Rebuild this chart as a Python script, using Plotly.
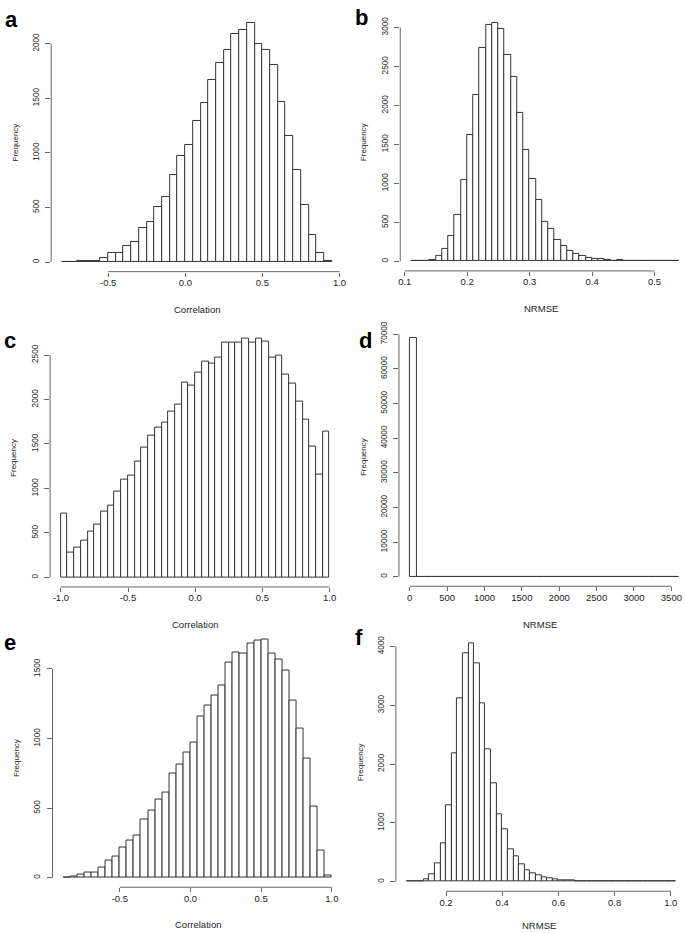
import plotly.graph_objects as go

W, H = 685, 933

# ---------------- data (histogram counts) ----------------
a_start, a_width = -0.8, 0.05
a_counts = [2, 3, 8, 10, 12, 40, 82, 88, 146, 185, 310, 364, 507, 601, 801, 974,
            1071, 1290, 1454, 1672, 1827, 1942, 2085, 2127, 2194, 1997, 1945, 1809,
            1463, 1156, 841, 525, 252, 88, 12]

b_start, b_width = 0.11, 0.01
b_counts = [1, 3, 8, 22, 68, 165, 325, 600, 1048, 1621, 2139, 2733, 3030, 3065,
            2988, 2648, 2364, 1905, 1426, 1057, 789, 505, 411, 280, 199, 131, 97,
            68, 38, 30, 30, 17, 12, 13, 10, 5, 8, 3, 2, 2, 1, 1, 1]

c_start, c_width = -1.0, 0.05
c_counts = [715, 275, 330, 415, 515, 590, 745, 810, 960, 1095, 1140, 1300, 1455,
            1595, 1680, 1745, 1860, 1945, 2190, 2160, 2300, 2425, 2400, 2470, 2635,
            2635, 2645, 2680, 2635, 2690, 2655, 2475, 2490, 2285, 2175, 1980, 1775,
            1470, 1155, 1645]

d_start, d_width = 0, 100
d_counts = [69050, 40, 12, 6, 4, 3, 2, 2, 1, 1, 1, 1, 1, 1, 1, 1, 1, 1, 1, 1, 1,
            1, 1, 1, 1, 1, 1, 1, 1, 1, 1, 1, 1, 1, 1, 1]

e_start, e_width = -0.9, 0.05
e_counts = [2, 7, 20, 35, 40, 70, 125, 150, 215, 265, 300, 420, 480, 560, 610, 750,
            815, 900, 975, 1160, 1240, 1310, 1380, 1550, 1615, 1610, 1685, 1705,
            1715, 1610, 1565, 1490, 1275, 1075, 855, 515, 195, 15]

f_start, f_width = 0.06, 0.02
f_counts = [1, 3, 12, 40, 120, 305, 658, 1293, 2182, 3111, 3882, 4061, 3713, 3026,
            2250, 1671, 1153, 883, 557, 427, 287, 196, 135, 101, 73, 51, 34, 28, 22,
            18, 14, 11, 9, 7, 6, 8, 4, 3, 3, 2, 2, 1, 1, 1, 1, 1, 1, 1]

# tick values / labels
corr_x_ticks = [-0.5, 0.0, 0.5, 1.0]
corr_x_labels = ["-0.5", "0.0", "0.5", "1.0"]
c_x_ticks = [-1.0, -0.5, 0.0, 0.5, 1.0]
c_x_labels = ["-1.0", "-0.5", "0.0", "0.5", "1.0"]
b_x_ticks = [0.1, 0.2, 0.3, 0.4, 0.5]
b_x_labels = ["0.1", "0.2", "0.3", "0.4", "0.5"]
d_x_ticks = [0, 500, 1000, 1500, 2000, 2500, 3000, 3500]
f_x_ticks = [0.2, 0.4, 0.6, 0.8, 1.0]
f_x_labels = ["0.2", "0.4", "0.6", "0.8", "1.0"]

a_y_ticks = [0, 500, 1000, 1500, 2000]
b_y_ticks = [0, 500, 1000, 1500, 2000, 2500, 3000]
c_y_ticks = [0, 500, 1000, 1500, 2000, 2500]
d_y_ticks = [0, 10000, 20000, 30000, 40000, 50000, 60000, 70000]
e_y_ticks = [0, 500, 1000, 1500]
f_y_ticks = [0, 1000, 2000, 3000, 4000]

# ---------------- layout calibration (pixel placement of each panel) ----------------
panels = [
    dict(letter="a", start=a_start, width=a_width, counts=a_counts, xlab="Correlation",
         xt=corr_x_ticks, xtl=corr_x_labels, yt=a_y_ticks, xlab_shift=-38,
         xcal=(-0.5, 107.0, 1.0, 340.0), ycal=(0, 257.0, 2000, 37.0), lpos=(10, 13)),
    dict(letter="b", start=b_start, width=b_width, counts=b_counts, xlab="NRMSE",
         xt=b_x_ticks, xtl=b_x_labels, yt=b_y_ticks, xlab_shift=-38,
         xcal=(0.1, 405.7, 0.5, 657.3), ycal=(0, 256.3, 3000, 20.7), lpos=(362, 11)),
    dict(letter="c", start=c_start, width=c_width, counts=c_counts, xlab="Correlation",
         xt=c_x_ticks, xtl=c_x_labels, yt=c_y_ticks, xlab_shift=-38,
         xcal=(-1.0, 59.3, 1.0, 330.0), ycal=(0, 574.7, 2500, 350.7), lpos=(8, 336)),
    dict(letter="d", start=d_start, width=d_width, counts=d_counts, xlab="NRMSE",
         xt=d_x_ticks, xtl=[str(v) for v in d_x_ticks], yt=d_y_ticks, xlab_shift=-38,
         xcal=(0, 410.7, 3500, 674.3), ycal=(0, 574.0, 70000, 329.7), lpos=(366, 336)),
    dict(letter="e", start=e_start, width=e_width, counts=e_counts, xlab="Correlation",
         xt=corr_x_ticks, xtl=corr_x_labels, yt=e_y_ticks, xlab_shift=-37,
         xcal=(-0.5, 118.7, 1.0, 332.3), ycal=(0, 877.3, 1500, 667.0), lpos=(8, 640)),
    dict(letter="f", start=f_start, width=f_width, counts=f_counts, xlab="NRMSE",
         xt=f_x_ticks, xtl=f_x_labels, yt=f_y_ticks, xlab_shift=-34,
         xcal=(0.2, 447.3, 1.0, 673.7), ycal=(0, 881.3, 4000, 644.3), lpos=(360, 635)),
]

FONT = "Liberation Sans, Arial, Helvetica, sans-serif"
BAR_LINE = "#333333"
AXIS_COL = "#666666"
TEXT_COL = "#222222"

fig = go.Figure()
shapes = []
annotations = []
layout = dict(width=W, height=H, margin=dict(l=0, r=0, t=0, b=0),
              paper_bgcolor="white", plot_bgcolor="white", showlegend=False,
              bargap=0, font=dict(family=FONT, color=TEXT_COL))

for i, p in enumerate(panels):
    n = i + 1
    xa = "x" if n == 1 else f"x{n}"
    ya = "y" if n == 1 else f"y{n}"
    n_bins = len(p["counts"])
    centers = [p["start"] + p["width"] * (k + 0.5) for k in range(n_bins)]
    fig.add_trace(go.Bar(
        x=centers, y=p["counts"], width=[p["width"]] * n_bins,
        marker=dict(color="white", line=dict(color=BAR_LINE, width=1)),
        xaxis=xa, yaxis=ya, hoverinfo="skip"))

    # R-style 4% padding of the data range
    x_min = p["start"]
    x_max = p["start"] + p["width"] * n_bins
    span = x_max - x_min
    x_lo, x_hi = x_min - 0.04 * span, x_max + 0.04 * span
    ymax = max(p["counts"])
    y_lo, y_hi = -0.04 * ymax, 1.04 * ymax

    v0, p0, v1, p1 = p["xcal"]
    kx = (p1 - p0) / (v1 - v0)
    px_lo = p0 + (x_lo - v0) * kx
    px_hi = p0 + (x_hi - v0) * kx
    if px_hi > W:
        px_hi = W
        x_hi = v0 + (W - p0) / kx
    w0, q0, w1, q1 = p["ycal"]
    ky = (q1 - q0) / (w1 - w0)
    py_bot = q0 + (y_lo - w0) * ky
    py_top = q0 + (y_hi - w0) * ky

    axkey_x = "xaxis" if n == 1 else f"xaxis{n}"
    axkey_y = "yaxis" if n == 1 else f"yaxis{n}"
    layout[axkey_x] = dict(
        domain=[px_lo / W, px_hi / W], range=[x_lo, x_hi], anchor=ya,
        showgrid=False, zeroline=False, showline=False,
        tickmode="array", tickvals=p["xt"], ticktext=p["xtl"],
        ticks="outside", ticklen=4, tickwidth=1, tickcolor=AXIS_COL,
        tickfont=dict(size=9.5, family=FONT, color=TEXT_COL), ticklabelstandoff=-2,
        fixedrange=True)
    layout[axkey_y] = dict(
        domain=[1 - py_bot / H, 1 - py_top / H], range=[y_lo, y_hi], anchor=xa,
        showgrid=False, zeroline=False, showline=False,
        tickmode="array", tickvals=p["yt"], ticktext=[str(v) for v in p["yt"]],
        ticks="outside", ticklen=5, tickwidth=1, tickcolor=AXIS_COL, tickangle=-90,
        tickfont=dict(size=8.2, family=FONT, color=TEXT_COL), ticklabelstandoff=3,
        fixedrange=True)

    # axis lines spanning only the tick range (R style)
    shapes.append(dict(type="line", xref=xa, yref=f"{ya} domain",
                       x0=p["xt"][0], x1=p["xt"][-1], y0=0, y1=0,
                       line=dict(color=AXIS_COL, width=1)))
    shapes.append(dict(type="line", xref=f"{xa} domain", yref=ya,
                       x0=0, x1=0, y0=p["yt"][0], y1=p["yt"][-1],
                       line=dict(color=AXIS_COL, width=1)))

    # axis titles
    annotations.append(dict(text=p["xlab"], xref=f"{xa} domain", yref=f"{ya} domain",
                            x=0.5, y=0, yshift=p["xlab_shift"], xanchor="center",
                            yanchor="middle", showarrow=False,
                            font=dict(size=9.5, family=FONT, color=TEXT_COL)))
    annotations.append(dict(text="Frequency", xref=f"{xa} domain", yref=f"{ya} domain",
                            x=0, y=0.5, xshift=-36, xanchor="center", yanchor="middle",
                            textangle=-90, showarrow=False,
                            font=dict(size=8, family=FONT, color=TEXT_COL)))
    # panel letter
    lx, ly = p["lpos"]
    annotations.append(dict(text=f"<b>{p['letter']}</b>", xref="paper", yref="paper",
                            x=lx / W, y=1 - ly / H, xanchor="center", yanchor="middle",
                            showarrow=False, font=dict(size=22, family=FONT, color="black")))

layout["shapes"] = shapes
layout["annotations"] = annotations
fig.update_layout(**layout)

fig.write_html("out.html", config={"displayModeBar": False},
               post_script="document.body.style.margin='0px';"
                           "document.body.style.overflow='hidden';")
